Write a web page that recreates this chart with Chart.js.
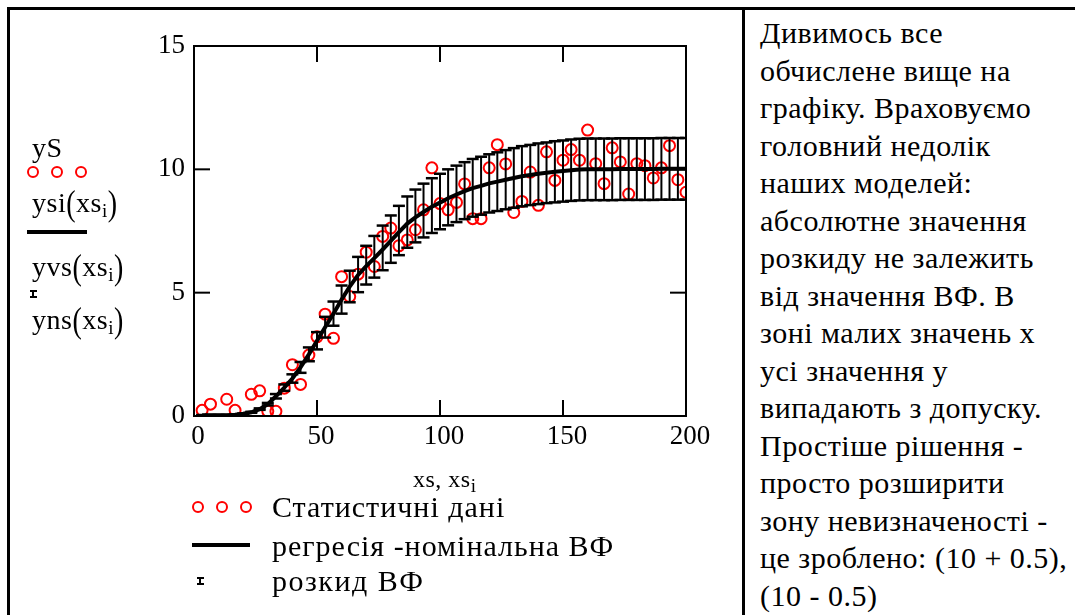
<!DOCTYPE html>
<html>
<head>
<meta charset="utf-8">
<script src="https://cdn.jsdelivr.net/npm/chart.js@4.4.1/dist/chart.umd.min.js"></script>
<style>
  body { margin: 0; background: #fff; width: 1075px; height: 615px; overflow: hidden; position: relative;
         font-family: 'Liberation Serif', 'Times New Roman', serif; color: #000; }
  .bar { position: absolute; background: #000; }
  #plot { position: absolute; left: 0; top: 0; }
  .t { position: absolute; font-size: 28px; line-height: 32px; white-space: nowrap; letter-spacing: 0.5px; }
  .t sub { font-size: 19px; vertical-align: -5px; line-height: 0; }
  .p { display: inline-block; transform: scaleY(1.3); }
  .lg { position: absolute; font-size: 30px; line-height: 34px; white-space: nowrap; letter-spacing: 1px; }
  .circ { position: absolute; width: 8px; height: 8px; border: 2px solid #ff0000; border-radius: 50%; }
  .ln { position: absolute; height: 4px; background: #000; }
  #note { position: absolute; left: 760px; top: 14px; font-size: 30px; line-height: 37.5px;
          white-space: nowrap; letter-spacing: 0.5px; }
</style>
</head>
<body>
<div class="bar" style="left:7px;top:7px;width:1068px;height:3px"></div>
<div class="bar" style="left:7px;top:7px;width:3px;height:608px"></div>
<div class="bar" style="left:742px;top:7px;width:3px;height:608px"></div>

<canvas id="plot" width="742" height="615"></canvas>

<!-- y-axis trace labels -->
<div class="t" style="left:32px;top:132px">yS</div>
<div class="circ" style="left:27px;top:166px"></div>
<div class="circ" style="left:51px;top:166px"></div>
<div class="circ" style="left:75px;top:166px"></div>
<div class="t" style="left:32px;top:187px">ysi<span class="p">(</span>xs<sub>i</sub><span class="p">)</span></div>
<div class="ln" style="left:27px;top:230px;width:60px"></div>
<div class="t" style="left:32px;top:251px">yvs<span class="p">(</span>xs<sub>i</sub><span class="p">)</span></div>
<div class="bar" style="left:30px;top:290px;width:7px;height:2px"></div>
<div class="bar" style="left:32px;top:290px;width:2px;height:8px"></div>
<div class="bar" style="left:30px;top:296px;width:7px;height:2px"></div>
<div class="t" style="left:32px;top:304px">yns<span class="p">(</span>xs<sub>i</sub><span class="p">)</span></div>

<!-- x-axis label -->
<div class="t" style="left:413px;top:465px;font-size:24px;line-height:28px">xs, xs<sub>i</sub></div>

<!-- legend -->
<div class="circ" style="left:192px;top:501px"></div>
<div class="circ" style="left:216px;top:501px"></div>
<div class="circ" style="left:240px;top:501px"></div>
<div class="lg" style="left:272px;top:490px">Статистичні дані</div>
<div class="ln" style="left:192px;top:543px;width:58px"></div>
<div class="lg" style="left:272px;top:529px">регресія -номінальна ВФ</div>
<div class="bar" style="left:197px;top:577px;width:7px;height:2px"></div>
<div class="bar" style="left:199px;top:577px;width:2px;height:8px"></div>
<div class="bar" style="left:197px;top:583px;width:7px;height:2px"></div>
<div class="lg" style="left:272px;top:564px;letter-spacing:1.5px">розкид ВФ</div>

<div id="note">Дивимось все<br>обчислене вище на<br>графіку. Враховуємо<br>головний недолік<br>наших моделей:<br>абсолютне значення<br>розкиду не залежить<br>від значення ВФ. В<br>зоні малих значень x<br>усі значення y<br>випадають з допуску.<br>Простіше рішення -<br>просто розширити<br>зону невизначеності -<br>це зроблено: (10 + 0.5),<br>(10 - 0.5)</div>

<script>
// xs_i values
const xs = [3.3, 6.7, 10, 13.3, 16.7, 20, 23.3, 26.7, 30, 33.3,
            36.7, 40, 43.3, 46.7, 50, 53.3, 56.7, 60, 63.3, 66.7,
            70, 73.3, 76.7, 80, 83.3, 86.7, 90, 93.3, 96.7, 100,
            103.3, 106.7, 110, 113.3, 116.7, 120, 123.3, 126.7, 130, 133.3,
            136.7, 140, 143.3, 146.7, 150, 153.3, 156.7, 160, 163.3, 166.7,
            170, 173.3, 176.7, 180, 183.3, 186.7, 190, 193.3, 196.7, 200];

// statistical data ysi(xs_i)
const ySi = [0.23, 0.48, -0.6, 0.68, 0.23, -0.6, 0.88, 1.02, 0.19, 0.19,
             1.13, 2.08, 1.28, 2.47, 3.21, 4.13, 3.15, 5.65, 4.84, 5.75,
             6.64, 6.06, 7.28, 7.62, 6.90, 7.14, 7.55, 8.36, 10.06, 8.61,
             8.36, 8.66, 9.41, 8.0, 8.0, 10.06, 11.0, 10.22, 8.25, 8.70,
             9.89, 8.54, 10.71, 9.55, 10.37, 10.80, 10.37, 11.59, 10.23, 9.42,
             10.87, 10.30, 9.0, 10.23, 10.15, 9.65, 10.06, 10.96, 9.58, 9.07];

// regression yvs(xs_i)
const yVs = [0.03, 0.03, 0.03, 0.03, 0.05, 0.09, 0.15, 0.28, 0.48, 0.8,
             1.15, 1.52, 1.97, 2.5, 3.05, 3.6, 4.15, 4.72, 5.25, 5.72,
             6.08, 6.4, 6.75, 7.1, 7.45, 7.8, 8.05, 8.27, 8.48, 8.65,
             8.83, 8.98, 9.12, 9.24, 9.33, 9.43, 9.5, 9.58, 9.65, 9.72,
             9.77, 9.82, 9.86, 9.9, 9.93, 9.96, 9.99, 10.0, 10.0, 10.0,
             10.0, 10.01, 10.01, 10.01, 10.01, 10.01, 10.02, 10.02, 10.02, 10.02];

// spread yns(xs_i): lower and upper ends of each bar
const yLo = [0.02, 0.02, 0.02, 0.02, 0.04, 0.08, 0.13, 0.25, 0.43, 0.71,
             1.02, 1.35, 1.75, 2.22, 2.70, 3.18, 3.66, 4.15, 4.61, 5.02,
             5.33, 5.61, 5.91, 6.21, 6.52, 6.82, 7.04, 7.24, 7.42, 7.57,
             7.73, 7.86, 7.98, 8.08, 8.16, 8.25, 8.31, 8.38, 8.44, 8.50,
             8.55, 8.59, 8.63, 8.66, 8.69, 8.72, 8.74, 8.75, 8.75, 8.75,
             8.75, 8.76, 8.76, 8.76, 8.76, 8.76, 8.77, 8.77, 8.77, 8.77];
const yHi = [0.04, 0.04, 0.04, 0.04, 0.06, 0.10, 0.17, 0.31, 0.53, 0.89,
             1.28, 1.69, 2.19, 2.78, 3.40, 4.02, 4.64, 5.29, 5.89, 6.45,
             6.90, 7.30, 7.72, 8.13, 8.52, 8.90, 9.18, 9.42, 9.64, 9.82,
             10.00, 10.15, 10.29, 10.42, 10.51, 10.61, 10.69, 10.78, 10.86, 10.94,
             10.99, 11.05, 11.09, 11.14, 11.17, 11.21, 11.24, 11.25, 11.25, 11.25,
             11.25, 11.26, 11.26, 11.26, 11.26, 11.26, 11.27, 11.27, 11.27, 11.27];

const xTickVals = [0, 50, 100, 150, 200];
const yTickVals = [0, 5, 10, 15];

const serif = "'Liberation Serif', 'Times New Roman', serif";

function seg(ctx, x1, y1, x2, y2) {
    ctx.beginPath();
    ctx.moveTo(x1, y1);
    ctx.lineTo(x2, y2);
    ctx.stroke();
}

// error bars + boxed frame with inward ticks (Mathcad style)
const mathcadFrame = {
    id: "mathcadFrame",
    afterDatasetsDraw(chart) {
        const { ctx, chartArea: a, scales: { x, y } } = chart;
        ctx.save();
        ctx.beginPath();
        ctx.rect(a.left, a.top, a.right - a.left, a.bottom - a.top);
        ctx.clip();
        ctx.strokeStyle = "#000";
        xs.forEach((v, i) => {
            const px = x.getPixelForValue(v);
            const pl = y.getPixelForValue(yLo[i]);
            const ph = y.getPixelForValue(yHi[i]);
            ctx.lineWidth = 2;
            seg(ctx, px, pl, px, ph);
            ctx.lineWidth = 2.5;
            seg(ctx, px - 6, pl, px + 6, pl);
            seg(ctx, px - 6, ph, px + 6, ph);
        });
        ctx.restore();

        ctx.save();
        ctx.strokeStyle = "#000";
        ctx.lineWidth = 2;
        ctx.strokeRect(a.left, a.top, a.right - a.left, a.bottom - a.top);
        const tl = 16;
        xTickVals.forEach(v => {
            const px = x.getPixelForValue(v);
            seg(ctx, px, a.bottom, px, a.bottom - tl);
            seg(ctx, px, a.top, px, a.top + tl);
        });
        yTickVals.forEach(v => {
            const py = y.getPixelForValue(v);
            seg(ctx, a.left, py, a.left + tl, py);
            seg(ctx, a.right, py, a.right - tl, py);
        });
        ctx.restore();
    }
};

new Chart(document.getElementById("plot"), {
    type: "scatter",
    data: {
        datasets: [
            {
                type: "scatter",
                label: "Статистичні дані",
                data: xs.map((x, i) => ({ x, y: ySi[i] })),
                pointStyle: "circle",
                pointRadius: 5.5,
                pointBorderWidth: 2,
                borderColor: "#ff0000",
                backgroundColor: "rgba(0,0,0,0)",
                clip: 0,
                order: 2
            },
            {
                type: "line",
                label: "регресія -номінальна ВФ",
                data: xs.map((x, i) => ({ x, y: yVs[i] })),
                borderColor: "#000",
                borderWidth: 4,
                pointRadius: 0,
                fill: false,
                tension: 0,
                clip: 0,
                order: 1
            }
        ]
    },
    options: {
        responsive: false,
        animation: false,
        events: [],
        layout: { padding: { left: 0, right: 56, top: 46, bottom: 159 } },
        plugins: { legend: { display: false }, tooltip: { enabled: false } },
        scales: {
            x: {
                type: "linear", min: 0, max: 200,
                afterBuildTicks: s => { s.ticks = xTickVals.map(v => ({ value: v })); },
                afterFit: s => { s.height = 40; },
                grid: { display: false, drawTicks: false },
                border: { display: false },
                ticks: { color: "#000", padding: 5, labelOffset: 4, maxRotation: 0, autoSkip: false,
                         font: { family: serif, size: 27 } }
            },
            y: {
                type: "linear", min: 0, max: 15,
                afterBuildTicks: s => { s.ticks = yTickVals.map(v => ({ value: v })); },
                afterFit: s => { s.width = 194; },
                grid: { display: false, drawTicks: false },
                border: { display: false },
                ticks: { color: "#000", padding: 9, autoSkip: false,
                         font: { family: serif, size: 27 } }
            }
        }
    },
    plugins: [mathcadFrame]
});
</script>
</body>
</html>
